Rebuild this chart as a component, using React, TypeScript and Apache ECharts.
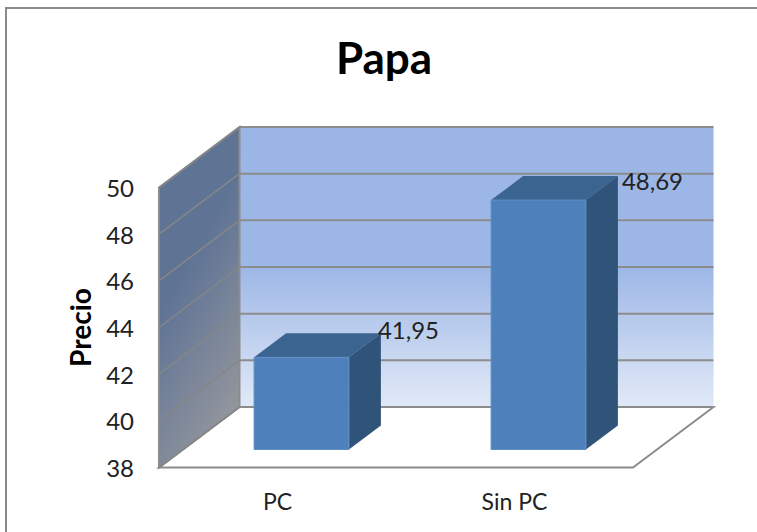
import React, { useEffect, useRef } from "react";
import * as echarts from "echarts";

const categories = ["PC", "Sin PC"];
const values = [41.95, 48.69];
const valueLabels = ["41,95", "48,69"];
const ticks = [38, 40, 42, 44, 46, 48, 50];
const titleText = "Papa";
const yName = "Precio";

const FONT = "Lato, Carlito, sans-serif";
const DX = 80.5, DY = -60.5; // depth of the whole plot box
const BX = 24, BY = -18; // bar front-face offset
const BDX = 32, BDY = -24; // bar depth
const labelOffsets = [[-3, -4], [4, 4]];

export default function App() {
  const ref = useRef<HTMLDivElement>(null);
  useEffect(() => {
    document.body.style.margin = "0";
    const chart = echarts.init(ref.current!, undefined, { renderer: "svg" });
    const G = (echarts as any).graphic;
    chart.setOption({
      animation: false,
      backgroundColor: "#fff",
      title: {
        text: titleText,
        left: 379,
        top: 30,
        textAlign: "center",
        textStyle: { fontFamily: FONT, fontSize: 44, fontWeight: "bold", color: "#000" },
      },
      grid: { left: 159, top: 187.5, width: 474, height: 280 },
      xAxis: {
        type: "category",
        data: categories,
        axisLine: { show: false },
        axisTick: { show: false },
        axisLabel: { fontFamily: FONT, fontSize: 23, color: "#222", margin: 22 },
      },
      yAxis: {
        type: "value",
        min: 38,
        max: 50,
        interval: 2,
        name: yName,
        nameLocation: "middle",
        nameGap: 65,
        nameTextStyle: { fontFamily: FONT, fontSize: 28, fontWeight: "bold", color: "#000" },
        axisLine: { show: false },
        axisTick: { show: false },
        splitLine: { show: false },
        axisLabel: { fontFamily: FONT, fontSize: 24, color: "#222", margin: 25, padding: [3, 0, 0, 0] },
      },
      graphic: [
        {
          type: "polyline",
          shape: { points: [[6, 532], [6, 8], [757, 8]] },
          style: { stroke: "#8a8a8a", lineWidth: 2, fill: "none" },
        },
      ],
      series: [
        {
          type: "custom",
          name: "walls",
          coordinateSystem: "cartesian2d",
          z: 1,
          silent: true,
          data: [[0, 38]],
          renderItem: (params: any, api: any) => {
            const c = params.coordSys;
            const x0 = c.x, x1 = c.x + c.width, yt = c.y, yb = c.y + c.height;
            const edge = { stroke: "#8c8c8c", lineWidth: 2 };
            return {
              type: "group",
              children: [
                {
                  type: "polygon",
                  shape: { points: [[x0 + DX, yb + DY], [x1 + DX, yb + DY], [x1, yb], [x0, yb]] },
                  style: { fill: "#fff", ...edge },
                },
                {
                  type: "polygon",
                  shape: { points: [[x0 + DX, yt + DY], [x1 + DX, yt + DY], [x1 + DX, yb + DY], [x0 + DX, yb + DY]] },
                  style: {
                    fill: new G.LinearGradient(0, 0, 0, 1, [
                      { offset: 0, color: "#9BB5E6" },
                      { offset: 0.5, color: "#9DB7E6" },
                      { offset: 1, color: "#E1E9F7" },
                    ]),
                  },
                },
                {
                  type: "polygon",
                  shape: { points: [[x0, yt], [x0 + DX, yt + DY], [x0 + DX, yb + DY], [x0, yb]] },
                  style: {
                    fill: new G.LinearGradient(0.35, 0.4, 0.6, 1, [
                      { offset: 0, color: "#5F7395" },
                      { offset: 1, color: "#94979D" },
                    ]),
                    ...edge,
                  },
                },
              ],
            };
          },
        },
        {
          type: "custom",
          name: "gridlines",
          coordinateSystem: "cartesian2d",
          z: 2,
          silent: true,
          data: ticks.map((t) => [0, t]),
          renderItem: (params: any, api: any) => {
            const c = params.coordSys;
            const y = api.coord([0, api.value(1)])[1];
            const x0 = c.x, x1 = c.x + c.width;
            return {
              type: "group",
              children: [
                {
                  type: "line",
                  shape: { x1: x0 + DX, y1: y + DY, x2: x1 + DX, y2: y + DY },
                  style: { stroke: "#8c8c8c", lineWidth: 2 },
                },
                {
                  type: "line",
                  shape: { x1: x0, y1: y, x2: x0 + DX, y2: y + DY },
                  style: { stroke: "#868686", lineWidth: 1.5 },
                },
              ],
            };
          },
        },
        {
          type: "custom",
          name: "Precio",
          coordinateSystem: "cartesian2d",
          z: 3,
          data: values.map((v, i) => [i, v]),
          renderItem: (params: any, api: any) => {
            const i = api.value(0);
            const top = api.coord([i, api.value(1)]);
            const base = api.coord([i, 38]);
            const w = api.size([1, 0])[0] * 0.4;
            const l = top[0] - w / 2 + BX, r = top[0] + w / 2 + BX;
            const t = top[1] + BY, b = base[1] + BY;
            const off = labelOffsets[params.dataIndex];
            return {
              type: "group",
              children: [
                {
                  type: "polygon",
                  shape: { points: [[l, t], [l + BDX, t + BDY], [r + BDX, t + BDY], [r, t]] },
                  style: { fill: "#3C6491" },
                },
                {
                  type: "polygon",
                  shape: { points: [[r, t], [r + BDX, t + BDY], [r + BDX, b + BDY], [r, b]] },
                  style: { fill: "#305379" },
                },
                {
                  type: "rect",
                  shape: { x: l, y: t, width: r - l, height: b - t },
                  style: { fill: "#4E80BC", stroke: "#5F8EC6", lineWidth: 1 },
                },
                {
                  type: "text",
                  x: r + BDX + off[0],
                  y: t + BDY + off[1],
                  style: {
                    text: valueLabels[params.dataIndex],
                    fontFamily: FONT,
                    fontSize: 24,
                    fill: "#222",
                    align: "left",
                    verticalAlign: "middle",
                  },
                },
              ],
            };
          },
        },
      ],
    });
    return () => chart.dispose();
  }, []);
  return <div ref={ref} style={{ position: "absolute", left: 0, top: 0, width: 757, height: 532 }} />;
}
